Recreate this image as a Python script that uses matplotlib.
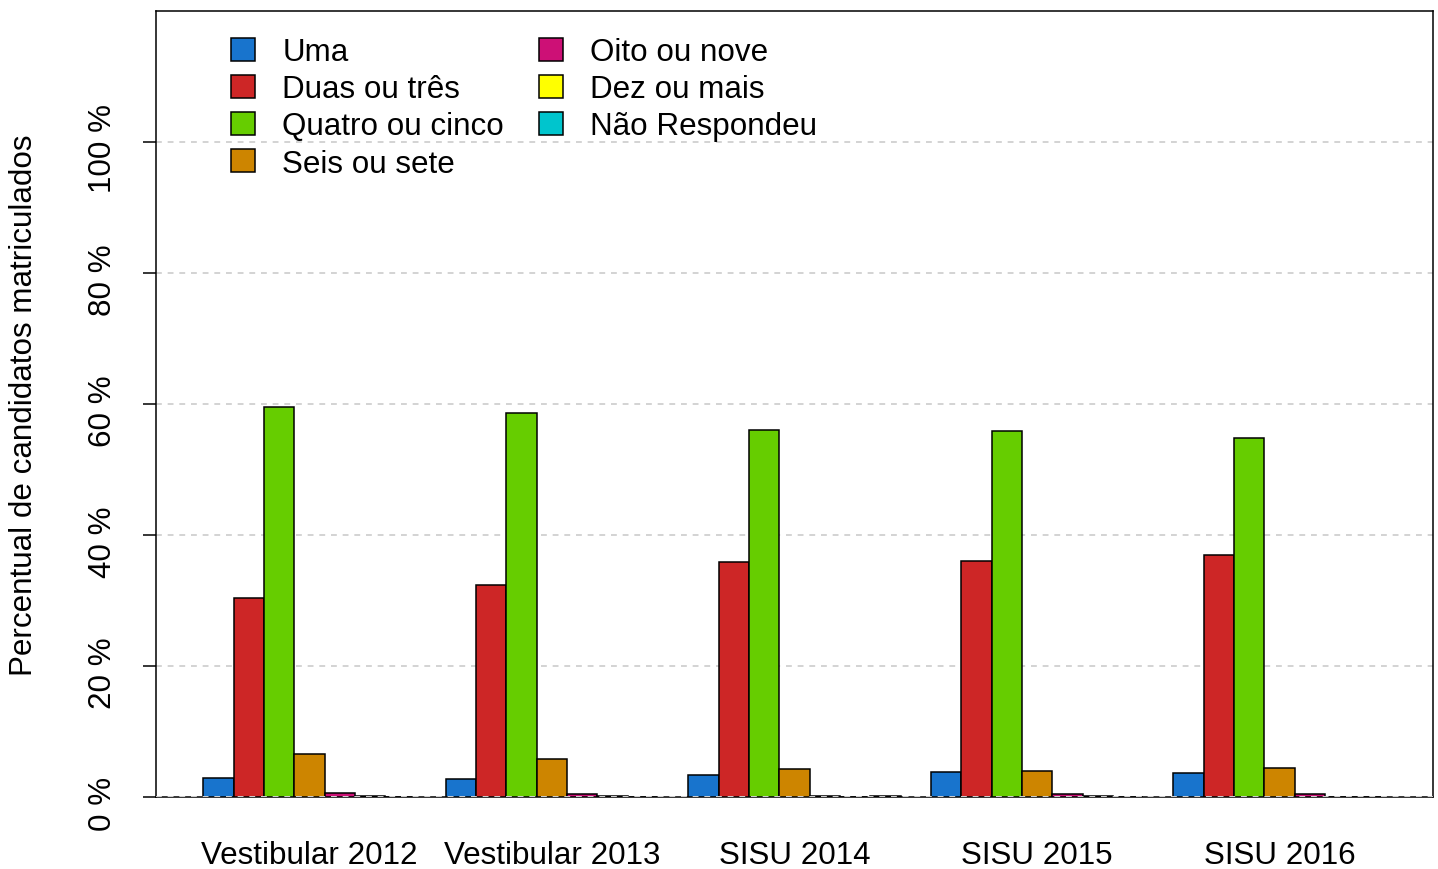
import matplotlib
matplotlib.use("Agg")
import matplotlib.pyplot as plt
from matplotlib.patches import Patch
from matplotlib.transforms import ScaledTranslation
import numpy as np

plt.rcParams['font.family'] = ['Liberation Sans', 'DejaVu Sans']

groups = ["Vestibular 2012", "Vestibular 2013", "SISU 2014", "SISU 2015", "SISU 2016"]
categories = ["Uma", "Duas ou três", "Quatro ou cinco", "Seis ou sete",
              "Oito ou nove", "Dez ou mais", "Não Respondeu"]
uma = [2.9, 2.75, 3.4, 3.8, 3.7]
duas_tres = [30.4, 32.4, 35.9, 36.0, 36.9]
quatro_cinco = [59.5, 58.6, 56.0, 55.9, 54.8]
seis_sete = [6.6, 5.8, 4.3, 4.0, 4.4]
oito_nove = [0.6, 0.4, 0.15, 0.4, 0.4]
dez_mais = [0.15, 0.1, 0.05, 0.1, 0.05]
nao_resp = [0.0, 0.0, 0.1, 0.05, 0.05]
series = [uma, duas_tres, quatro_cinco, seis_sete, oito_nove, dez_mais, nao_resp]
colors = ["#1874CD", "#CD2626", "#66CD00", "#CD8500", "#CD1076", "#FFFF00", "#00C5CD"]
yticks = [0, 20, 40, 60, 80, 100]
ytick_labels = ["0 %", "20 %", "40 %", "60 %", "80 %", "100 %"]

FS = 22.6

fig = plt.figure(figsize=(14.38, 8.70), dpi=100)
ax = fig.add_axes([156/1438, 1-798/870, 1277/1438, 786/870])

nser = len(series)
ngrp = len(groups)
group_starts = np.arange(ngrp) * (nser + 1) + 1
for i, (vals, col) in enumerate(zip(series, colors)):
    ax.bar(group_starts + i, vals, width=1.0, align='edge', color=col,
           edgecolor='black', linewidth=1.1, zorder=3)

for yv in yticks:
    ax.axhline(yv, color='#D3D3D3', linestyle=(0, (3, 3)), linewidth=1.4,
               zorder=5 if yv == 0 else 1)

xmin = 1 - 0.04 * 39
xmax = 40 + 0.04 * 39
ax.set_xlim(xmin, xmax)
ax.set_ylim(0, 120)

ax.set_xticks(group_starts + nser / 2)
ax.set_xticklabels(groups, fontsize=FS)
ax.tick_params(axis='x', length=0, pad=31)
ax.set_yticks(yticks)
ax.set_yticklabels(ytick_labels, fontsize=FS, rotation=90, va='center')
ax.tick_params(axis='y', length=9.5, width=1.1, pad=18)
shift = ScaledTranslation(0, -6/100, fig.dpi_scale_trans)
for lab in ax.get_yticklabels():
    lab.set_transform(lab.get_transform() + shift)

for s in ax.spines.values():
    s.set_linewidth(1.1)
    s.set_color('black')

fig.text(24/1438, 1-405/870, "Percentual de candidatos matriculados",
         rotation=90, fontsize=FS, ha='center', va='center')

handles = [Patch(facecolor=c, edgecolor='black', linewidth=1.1) for c in colors]
leg = ax.legend(handles, categories, ncol=2, frameon=False, fontsize=FS,
                loc='upper left', bbox_to_anchor=(231/1438, 1-38/870),
                bbox_transform=fig.transFigure,
                handlelength=0.75, handleheight=0.75, handletextpad=0.88,
                columnspacing=1.12, labelspacing=0.23, borderaxespad=0, borderpad=0)

fig.savefig("out.png", dpi=100)
